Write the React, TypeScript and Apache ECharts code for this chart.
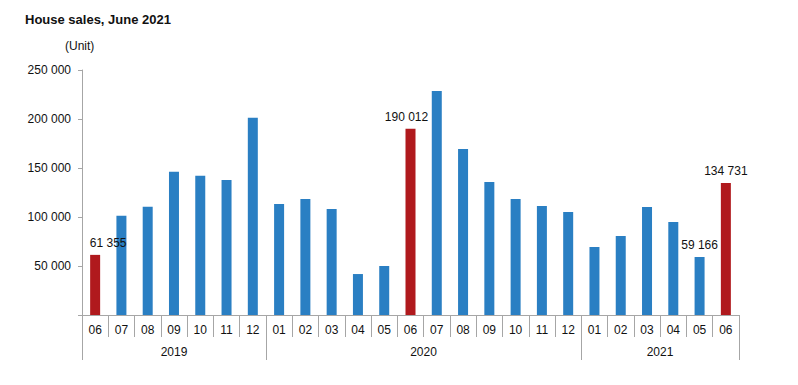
import React, { useEffect, useRef } from "react";
import * as echarts from "echarts";

const months = ["06","07","08","09","10","11","12","01","02","03","04","05","06","07","08","09","10","11","12","01","02","03","04","05","06"];
const years = ["2019", "2020", "2021"];
const yearStarts = [0, 7, 19];
const sales = [61355, 101300, 110500, 146200, 142100, 137800, 201300, 113300, 118400, 108200, 41800, 50000, 190012, 228600, 169400, 135700, 118400, 111200, 105100, 69400, 80600, 110200, 94900, 59166, 134731];
const highlighted = [0, 12, 24];
const labelled = [0, 12, 23, 24];
const yTicks = { min: 0, max: 250000, interval: 50000 };

const BLUE = "#2a7fc3";
const RED = "#b0191d";
const AXIS = "#a6a6a6";
const FONT = "'Liberation Sans', Arial, sans-serif";

const fmt = (v: number) => String(Math.round(v)).replace(/\B(?=(\d{3})+(?!\d))/g, " ");

const labelOffsets: Record<number, number[]> = { 0: [13, 0], 12: [-4, 0] };

// year label placement: index of the band holding the span centre, and whether the centre falls on a band boundary
const yearLabelAt: Record<number, { text: string; shift: boolean }> = {};
years.forEach((y, i) => {
  const start = yearStarts[i];
  const end = i + 1 < yearStarts.length ? yearStarts[i + 1] : months.length;
  const mid = (start + end) / 2;
  const idx = Math.floor(mid - 0.5);
  yearLabelAt[idx] = { text: y, shift: Math.abs(mid - (idx + 0.5)) > 0.01 };
});

export default function App() {
  const ref = useRef<HTMLDivElement>(null);
  useEffect(() => {
    if (!ref.current) return;
    const chart = echarts.init(ref.current, null, { renderer: "svg" });
    chart.setOption({
      animation: false,
      textStyle: { fontFamily: FONT },
      graphic: [
        { type: "text", left: 25, top: 13, style: { text: "House sales, June 2021", font: `bold 13px ${FONT}`, fill: "#111" } },
        { type: "text", left: 65, top: 40, style: { text: "(Unit)", font: `12px ${FONT}`, fill: "#111" } },
      ],
      grid: { left: 82, right: 59, top: 70, bottom: 70, containLabel: false },
      xAxis: [
        {
          type: "category",
          data: months,
          position: "bottom",
          axisLine: { show: true, lineStyle: { color: AXIS, width: 1 } },
          axisTick: { show: true, interval: 0, length: 22, lineStyle: { color: AXIS } },
          axisLabel: { interval: 0, margin: 9, color: "#111", fontSize: 12, fontFamily: FONT },
        },
        {
          type: "category",
          data: months,
          position: "bottom",
          axisLine: { show: false },
          axisTick: {
            show: true,
            interval: (i: number) => yearStarts.indexOf(i) >= 0,
            length: 45,
            lineStyle: { color: AXIS },
          },
          axisLabel: {
            interval: 0,
            margin: 31,
            color: "#111",
            fontSize: 12,
            fontFamily: FONT,
            formatter: (_v: string, i: number) => {
              const y = yearLabelAt[i];
              if (!y) return "";
              return y.shift ? `{s|${y.text}}` : y.text;
            },
            rich: { s: { padding: [0, 0, 0, 26], fontSize: 12, color: "#111", fontFamily: FONT } },
          },
        },
      ],
      yAxis: {
        type: "value",
        min: yTicks.min,
        max: yTicks.max,
        interval: yTicks.interval,
        axisLine: { show: true, lineStyle: { color: AXIS } },
        axisTick: { show: true, length: 4, lineStyle: { color: AXIS } },
        splitLine: { show: false },
        axisLabel: {
          margin: 11,
          color: "#111",
          fontSize: 12,
          fontFamily: FONT,
          formatter: (v: number) => (v === 0 ? "" : fmt(v)),
        },
      },
      series: [
        {
          type: "bar",
          xAxisIndex: 0,
          barWidth: 10,
          data: sales.map((v, i) => ({
            value: v,
            itemStyle: { color: highlighted.indexOf(i) >= 0 ? RED : BLUE },
            label: {
              show: labelled.indexOf(i) >= 0,
              position: "top",
              distance: 6,
              offset: labelOffsets[i] || [0, 0],
              color: "#111",
              fontSize: 12,
              fontFamily: FONT,
              formatter: (p: any) => fmt(p.value),
            },
          })),
        },
      ],
    });
    return () => chart.dispose();
  }, []);
  return <div ref={ref} style={{ position: "fixed", left: 0, top: 0, width: 798, height: 385, background: "#fff" }} />;
}
